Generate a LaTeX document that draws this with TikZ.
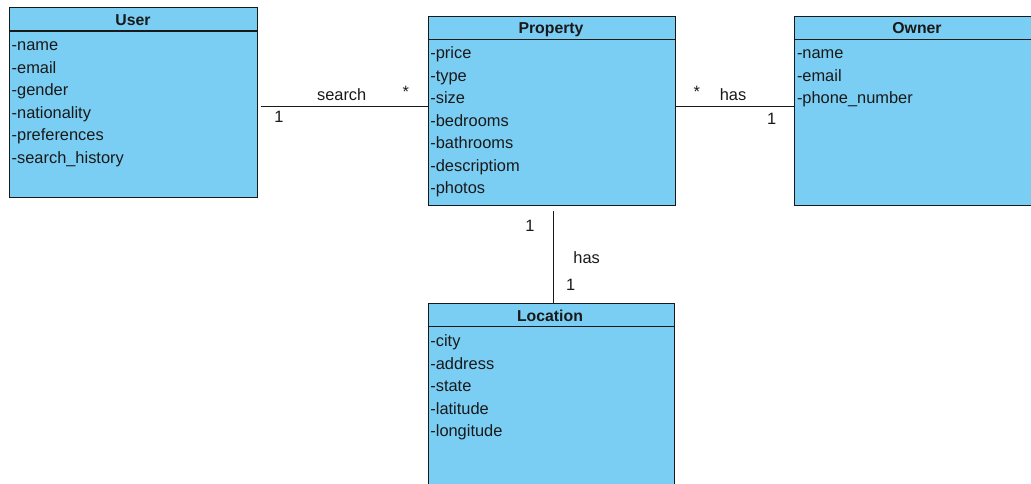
\documentclass[tikz,border=0pt]{standalone}
\usepackage{fontspec}
\setmainfont{Liberation Sans}
\definecolor{boxfill}{RGB}{122,206,244}
\definecolor{ink}{RGB}{25,25,25}
\tikzset{
  cls/.style={draw=ink, fill=boxfill, line width=1.1pt, rectangle, inner sep=0pt, anchor=north west},
  ttl/.style={font=\fontsize{15.8}{18}\selectfont\bfseries, text=ink, anchor=base, inner sep=0pt},
  attr/.style={font=\fontsize{16.4}{18}\selectfont, text=ink, anchor=base west, inner sep=0pt},
  lbl/.style={font=\fontsize{16.4}{18}\selectfont, text=ink, inner sep=0pt},
  conn/.style={draw=ink, line width=1.1pt},
  hdr/.style={draw=ink, line width=1.1pt}
}
\begin{document}
\begin{tikzpicture}[x=1pt,y=-1pt]
\path[use as bounding box, clip] (0,0) rectangle (1031,483);
\fill[white] (0,0) rectangle (1031,483);
% boxes
\node[cls, minimum width=248pt, minimum height=190pt] (user) at (9,7.3) {};
\node[cls, minimum width=247pt, minimum height=189.5pt] (prop) at (427.7,15.7) {};
\node[cls, minimum width=300pt, minimum height=189.5pt] (owner) at (794.3,15.7) {};
\node[cls, minimum width=246.5pt, minimum height=200pt] (loc) at (427.7,303.3) {};
% header lines
\draw[hdr] (user.west |- 0,31) -- (user.east |- 0,31);
\draw[hdr] (prop.west |- 0,39.2) -- (prop.east |- 0,39.2);
\draw[hdr] (owner.west |- 0,39.2) -- (owner.east |- 0,39.2);
\draw[hdr] (loc.west |- 0,326.7) -- (loc.east |- 0,326.7);
% titles
\node[ttl] (userT) at (133,25.3) {User};
\node[ttl] (propT) at (551,33.7) {Property};
\node[ttl] (ownerT) at (917,33.7) {Owner};
\node[ttl] (locT) at (550,321.3) {Location};
% user attributes
\node[attr] (u1) at (11.5,50.5) {-name};
\node[attr] (u2) at (11.5,73) {-email};
\node[attr] (u3) at (11.5,95.5) {-gender};
\node[attr] (u4) at (11.5,118) {-nationality};
\node[attr] (u5) at (11.5,140.5) {-preferences};
\node[attr] (u6) at (11.5,163) {-search\_history};
% property attributes
\node[attr] (p1) at (430.2,58.7) {-price};
\node[attr] (p2) at (430.2,81.2) {-type};
\node[attr] (p3) at (430.2,103.7) {-size};
\node[attr] (p4) at (430.2,126.2) {-bedrooms};
\node[attr] (p5) at (430.2,148.7) {-bathrooms};
\node[attr] (p6) at (430.2,171.2) {-descriptiom};
\node[attr] (p7) at (430.2,193.7) {-photos};
% owner attributes
\node[attr] (o1) at (796.8,58.7) {-name};
\node[attr] (o2) at (796.8,81.2) {-email};
\node[attr] (o3) at (796.8,103.7) {-phone\_number};
% location attributes
\node[attr] (l1) at (430.2,346.5) {-city};
\node[attr] (l2) at (430.2,369) {-address};
\node[attr] (l3) at (430.2,391.5) {-state};
\node[attr] (l4) at (430.2,414) {-latitude};
\node[attr] (l5) at (430.2,436.5) {-longitude};
% connectors
\coordinate (hy) at (0,106.7);
\coordinate (vx) at (553.3,0);
\draw[conn, shorten <=3pt] (user.east |- hy) -- (prop.west |- hy);
\draw[conn] (prop.east |- hy) -- (owner.west |- hy);
\draw[conn, shorten <=5pt] (prop.south -| vx) -- (loc.north -| vx);
% labels
\node[lbl] (s1) at (341.7,95) {search};
\node[lbl] (s2) at (405.7,91.5) {*};
\node[lbl] (s3) at (279,117) {1};
\node[lbl] (h1) at (696.7,91.5) {*};
\node[lbl] (h2) at (733,95) {has};
\node[lbl] (h3) at (771.7,118.5) {1};
\node[lbl] (v1) at (530,226) {1};
\node[lbl] (v2) at (586.7,258) {has};
\node[lbl] (v3) at (570.7,284.5) {1};
\end{tikzpicture}
\end{document}
